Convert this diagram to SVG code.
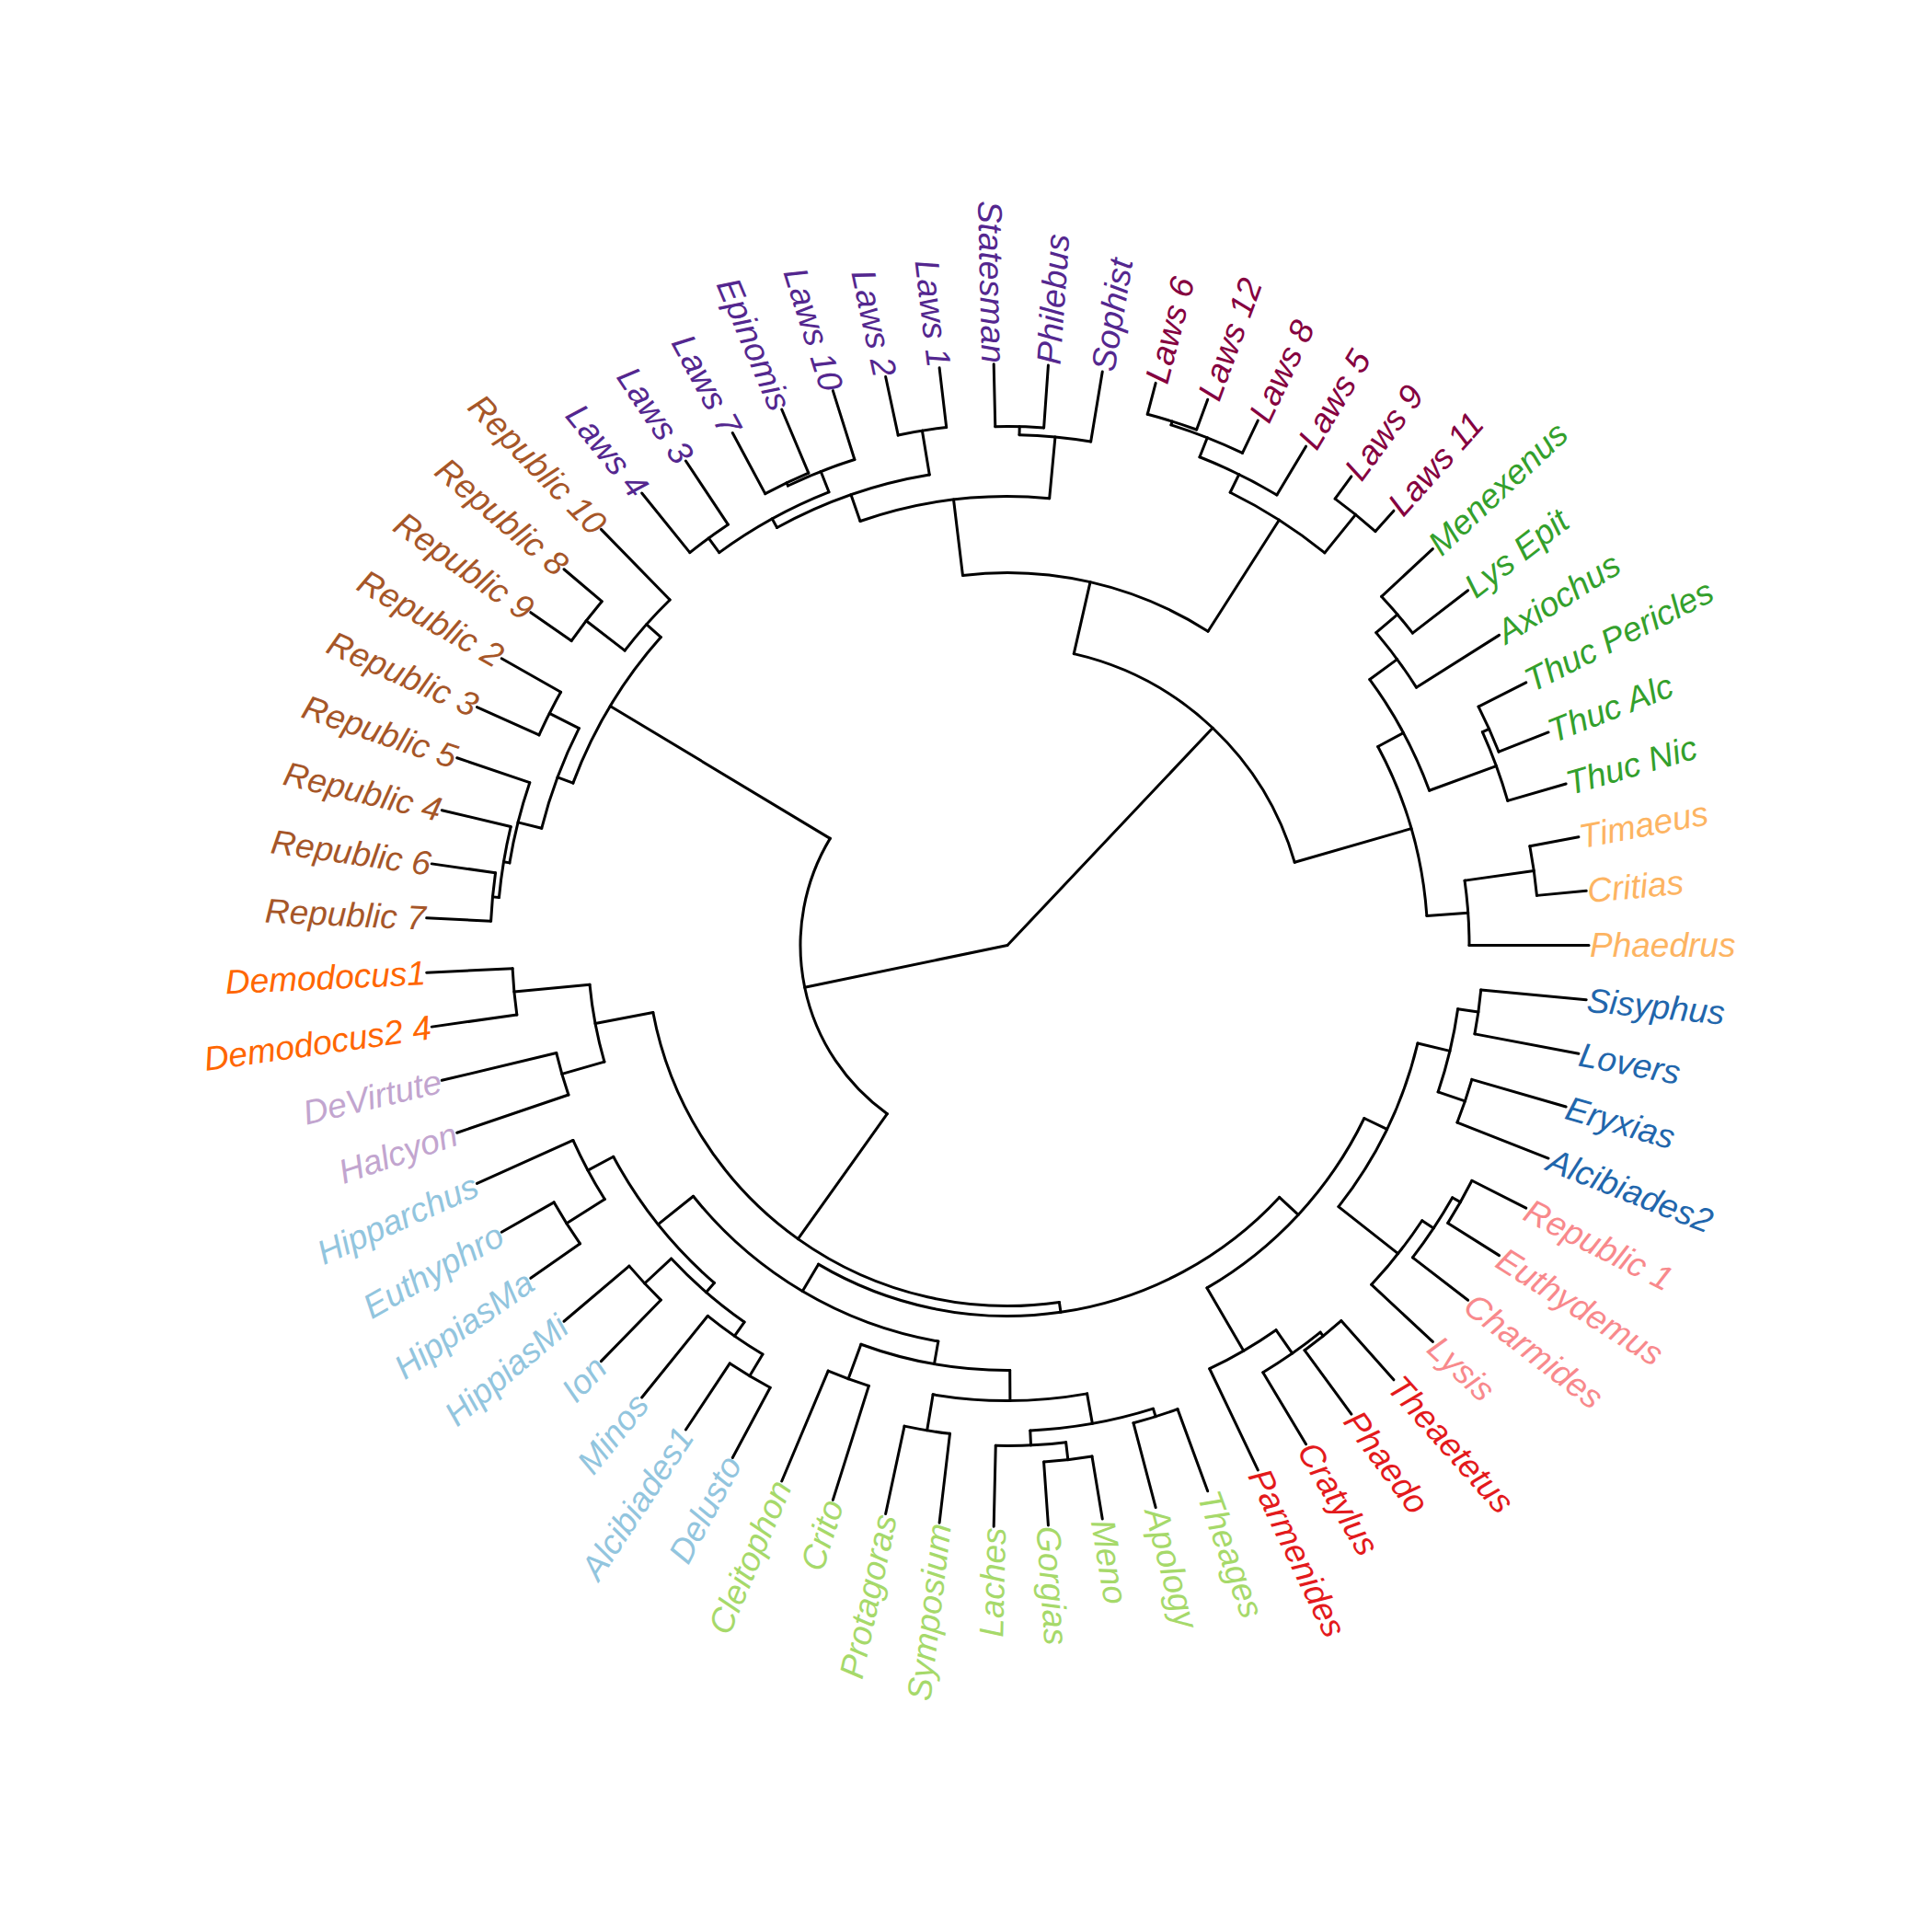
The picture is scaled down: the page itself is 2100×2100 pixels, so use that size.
<svg xmlns="http://www.w3.org/2000/svg" width="2100" height="2100" viewBox="0 0 2100 2100">
<style>
#connectors path, #connectors circle { fill:none; stroke:#000; stroke-width:3; stroke-linecap:round; }
text { font-family:"Liberation Sans", Arial, sans-serif; font-style:italic; font-size:37px; }
.L text { text-anchor:end; }
.brown { fill:#A65628; } .orange { fill:#FF6600; } .lpur { fill:#C2A5CF; } .lblue { fill:#92C5DE; }
.lgreen { fill:#A6D96A; } .red { fill:#E31A1C; } .pink { fill:#F8898C; } .blue { fill:#2166AC; }
.lorange { fill:#FDB462; } .green { fill:#33A02C; } .dred { fill:#85003F; } .purple { fill:#54278F; }
</style>
<rect width="2100" height="2100" fill="#fff"/>
<g id="connectors" transform="translate(1095 1027.5)">
<circle r="517" pathLength="360" stroke-dasharray="5.373 999" transform="rotate(5.373)"/>
<circle r="525.5" pathLength="360" stroke-dasharray="5.374 999" transform="rotate(16.119)"/>
<circle r="494.5" pathLength="360" stroke-dasharray="10.746 999" transform="rotate(8.060)"/>
<circle r="566" pathLength="360" stroke-dasharray="5.373 999" transform="rotate(26.866)"/>
<circle r="556" pathLength="360" stroke-dasharray="8.060 999" transform="rotate(29.552)"/>
<circle r="541" pathLength="360" stroke-dasharray="9.403 999" transform="rotate(33.582)"/>
<circle r="458.5" pathLength="360" stroke-dasharray="24.851 999" transform="rotate(13.433)"/>
<circle r="546" pathLength="360" stroke-dasharray="5.373 999" transform="rotate(48.358)"/>
<circle r="541" pathLength="360" stroke-dasharray="8.059 999" transform="rotate(51.045)"/>
<circle r="510" pathLength="360" stroke-dasharray="9.403 999" transform="rotate(55.075)"/>
<circle r="431" pathLength="360" stroke-dasharray="33.918 999" transform="rotate(25.858)"/>
<circle r="537" pathLength="360" stroke-dasharray="5.373 999" transform="rotate(69.851)"/>
<circle r="563" pathLength="360" stroke-dasharray="5.373 999" transform="rotate(80.597)"/>
<circle r="544" pathLength="360" stroke-dasharray="8.059 999" transform="rotate(83.284)"/>
<circle r="528" pathLength="360" stroke-dasharray="14.776 999" transform="rotate(72.537)"/>
<circle r="534.5" pathLength="360" stroke-dasharray="5.374 999" transform="rotate(96.716)"/>
<circle r="495" pathLength="360" stroke-dasharray="19.478 999" transform="rotate(79.925)"/>
<circle r="502" pathLength="360" stroke-dasharray="5.373 999" transform="rotate(107.463)"/>
<circle r="462" pathLength="360" stroke-dasharray="20.485 999" transform="rotate(89.664)"/>
<circle r="545.5" pathLength="360" stroke-dasharray="5.373 999" transform="rotate(118.209)"/>
<circle r="518" pathLength="360" stroke-dasharray="8.059 999" transform="rotate(120.896)"/>
<circle r="539" pathLength="360" stroke-dasharray="5.373 999" transform="rotate(134.328)"/>
<circle r="499.5" pathLength="360" stroke-dasharray="12.090 999" transform="rotate(124.925)"/>
<circle r="566.5" pathLength="360" stroke-dasharray="5.373 999" transform="rotate(145.075)"/>
<circle r="517.5" pathLength="360" stroke-dasharray="8.060 999" transform="rotate(147.761)"/>
<circle r="486" pathLength="360" stroke-dasharray="20.821 999" transform="rotate(130.970)"/>
<circle r="437" pathLength="360" stroke-dasharray="41.474 999" transform="rotate(99.907)"/>
<circle r="403" pathLength="360" stroke-dasharray="77.827 999" transform="rotate(42.817)"/>
<circle r="504" pathLength="360" stroke-dasharray="5.373 999" transform="rotate(161.194)"/>
<circle r="538.5" pathLength="360" stroke-dasharray="5.373 999" transform="rotate(171.940)"/>
<circle r="456" pathLength="360" stroke-dasharray="10.746 999" transform="rotate(163.881)"/>
<circle r="392" pathLength="360" stroke-dasharray="87.524 999" transform="rotate(81.730)"/>
<circle r="562" pathLength="360" stroke-dasharray="5.373 999" transform="rotate(182.687)"/>
<circle r="555" pathLength="360" stroke-dasharray="8.060 999" transform="rotate(185.373)"/>
<circle r="548.5" pathLength="360" stroke-dasharray="9.403 999" transform="rotate(189.403)"/>
<circle r="558" pathLength="360" stroke-dasharray="5.373 999" transform="rotate(204.179)"/>
<circle r="522" pathLength="360" stroke-dasharray="12.762 999" transform="rotate(194.104)"/>
<circle r="578" pathLength="360" stroke-dasharray="5.374 999" transform="rotate(214.925)"/>
<circle r="525" pathLength="360" stroke-dasharray="8.060 999" transform="rotate(217.612)"/>
<circle r="504" pathLength="360" stroke-dasharray="21.157 999" transform="rotate(200.485)"/>
<circle r="225" pathLength="360" stroke-dasharray="85.571 999" transform="rotate(125.492)"/>
<circle r="549" pathLength="360" stroke-dasharray="5.373 999" transform="rotate(231.045)"/>
<circle r="557" pathLength="360" stroke-dasharray="5.373 999" transform="rotate(241.791)"/>
<circle r="553.5" pathLength="360" stroke-dasharray="8.059 999" transform="rotate(244.478)"/>
<circle r="529.5" pathLength="360" stroke-dasharray="14.776 999" transform="rotate(233.731)"/>
<circle r="567" pathLength="360" stroke-dasharray="5.374 999" transform="rotate(257.910)"/>
<circle r="518.5" pathLength="360" stroke-dasharray="19.478 999" transform="rotate(241.119)"/>
<circle r="564" pathLength="360" stroke-dasharray="5.373 999" transform="rotate(268.657)"/>
<circle r="555" pathLength="360" stroke-dasharray="8.060 999" transform="rotate(271.343)"/>
<circle r="488" pathLength="360" stroke-dasharray="24.515 999" transform="rotate(250.858)"/>
<circle r="597" pathLength="360" stroke-dasharray="5.373 999" transform="rotate(284.776)"/>
<circle r="593" pathLength="360" stroke-dasharray="8.059 999" transform="rotate(287.463)"/>
<circle r="570.4" pathLength="360" stroke-dasharray="9.403 999" transform="rotate(291.493)"/>
<circle r="602" pathLength="360" stroke-dasharray="5.373 999" transform="rotate(306.269)"/>
<circle r="548.6" pathLength="360" stroke-dasharray="12.761 999" transform="rotate(296.194)"/>
<circle r="405" pathLength="360" stroke-dasharray="39.459 999" transform="rotate(263.116)"/>
<circle r="556" pathLength="360" stroke-dasharray="5.373 999" transform="rotate(317.015)"/>
<circle r="525.5" pathLength="360" stroke-dasharray="8.060 999" transform="rotate(319.701)"/>
<circle r="574" pathLength="360" stroke-dasharray="5.373 999" transform="rotate(333.134)"/>
<circle r="566" pathLength="360" stroke-dasharray="8.060 999" transform="rotate(335.821)"/>
<circle r="488.5" pathLength="360" stroke-dasharray="16.120 999" transform="rotate(323.731)"/>
<circle r="578" pathLength="360" stroke-dasharray="5.373 999" transform="rotate(349.254)"/>
<circle r="502" pathLength="360" stroke-dasharray="8.060 999" transform="rotate(351.940)"/>
<circle r="457" pathLength="360" stroke-dasharray="24.179 999" transform="rotate(331.791)"/>
<circle r="325" pathLength="360" stroke-dasharray="61.035 999" transform="rotate(282.846)"/>
<path d="M0 0H225" transform="rotate(168.278)"/>
<path d="M0 0H325" transform="rotate(313.363)"/>
<path d="M225 0H504" transform="rotate(211.063)"/>
<path d="M225 0H392" transform="rotate(125.492)"/>
<path d="M504 0H522" transform="rotate(200.485)"/>
<path d="M504 0H525" transform="rotate(221.642)"/>
<path d="M522 0H548.5" transform="rotate(194.104)"/>
<path d="M522 0H558" transform="rotate(206.866)"/>
<path d="M548.5 0H555" transform="rotate(189.403)"/>
<path d="M555 0H562" transform="rotate(185.373)"/>
<path d="M525 0H578" transform="rotate(217.612)"/>
<path d="M392 0H456" transform="rotate(169.254)"/>
<path d="M392 0H403" transform="rotate(81.730)"/>
<path d="M456 0H504" transform="rotate(163.881)"/>
<path d="M456 0H538.5" transform="rotate(174.627)"/>
<path d="M403 0H431" transform="rotate(42.817)"/>
<path d="M403 0H437" transform="rotate(120.644)"/>
<path d="M431 0H458.5" transform="rotate(25.858)"/>
<path d="M431 0H510" transform="rotate(59.776)"/>
<path d="M458.5 0H494.5" transform="rotate(13.433)"/>
<path d="M458.5 0H541" transform="rotate(38.284)"/>
<path d="M494.5 0H517" transform="rotate(8.060)"/>
<path d="M494.5 0H525.5" transform="rotate(18.806)"/>
<path d="M541 0H556" transform="rotate(33.582)"/>
<path d="M556 0H566" transform="rotate(29.552)"/>
<path d="M510 0H541" transform="rotate(55.075)"/>
<path d="M541 0H546" transform="rotate(51.045)"/>
<path d="M437 0H462" transform="rotate(99.907)"/>
<path d="M437 0H486" transform="rotate(141.381)"/>
<path d="M462 0H495" transform="rotate(89.664)"/>
<path d="M462 0H502" transform="rotate(110.149)"/>
<path d="M495 0H528" transform="rotate(79.925)"/>
<path d="M495 0H534.5" transform="rotate(99.403)"/>
<path d="M528 0H537" transform="rotate(72.537)"/>
<path d="M528 0H544" transform="rotate(87.313)"/>
<path d="M544 0H563" transform="rotate(83.284)"/>
<path d="M486 0H499.5" transform="rotate(130.970)"/>
<path d="M486 0H517.5" transform="rotate(151.791)"/>
<path d="M499.5 0H518" transform="rotate(124.925)"/>
<path d="M499.5 0H539" transform="rotate(137.015)"/>
<path d="M518 0H545.5" transform="rotate(120.896)"/>
<path d="M517.5 0H566.5" transform="rotate(147.761)"/>
<path d="M325 0H405" transform="rotate(282.846)"/>
<path d="M325 0H457" transform="rotate(343.881)"/>
<path d="M405 0H488" transform="rotate(263.116)"/>
<path d="M405 0H548.6" transform="rotate(302.575)"/>
<path d="M488 0H518.5" transform="rotate(250.858)"/>
<path d="M488 0H555" transform="rotate(275.373)"/>
<path d="M518.5 0H529.5" transform="rotate(241.119)"/>
<path d="M518.5 0H567" transform="rotate(260.597)"/>
<path d="M529.5 0H549" transform="rotate(233.731)"/>
<path d="M529.5 0H553.5" transform="rotate(248.507)"/>
<path d="M553.5 0H557" transform="rotate(244.478)"/>
<path d="M555 0H564" transform="rotate(271.343)"/>
<path d="M548.6 0H570.4" transform="rotate(296.194)"/>
<path d="M548.6 0H602" transform="rotate(308.955)"/>
<path d="M570.4 0H593" transform="rotate(291.493)"/>
<path d="M593 0H597" transform="rotate(287.463)"/>
<path d="M457 0H488.5" transform="rotate(331.791)"/>
<path d="M457 0H502" transform="rotate(355.970)"/>
<path d="M488.5 0H525.5" transform="rotate(323.731)"/>
<path d="M488.5 0H566" transform="rotate(339.851)"/>
<path d="M525.5 0H556" transform="rotate(319.701)"/>
<path d="M566 0H574" transform="rotate(335.821)"/>
<path d="M502 0H578" transform="rotate(351.940)"/>
<path d="M502 0H632" transform="rotate(0)"/>
<path d="M517 0H632" transform="rotate(5.373)"/>
<path d="M517 0H632" transform="rotate(10.746)"/>
<path d="M525.5 0H632" transform="rotate(16.119)"/>
<path d="M525.5 0H632" transform="rotate(21.493)"/>
<path d="M566 0H632" transform="rotate(26.866)"/>
<path d="M566 0H632" transform="rotate(32.239)"/>
<path d="M556 0H632" transform="rotate(37.612)"/>
<path d="M541 0H632" transform="rotate(42.985)"/>
<path d="M546 0H632" transform="rotate(48.358)"/>
<path d="M546 0H632" transform="rotate(53.731)"/>
<path d="M541 0H632" transform="rotate(59.104)"/>
<path d="M510 0H632" transform="rotate(64.478)"/>
<path d="M537 0H632" transform="rotate(69.851)"/>
<path d="M537 0H632" transform="rotate(75.224)"/>
<path d="M563 0H632" transform="rotate(80.597)"/>
<path d="M563 0H632" transform="rotate(85.970)"/>
<path d="M544 0H632" transform="rotate(91.343)"/>
<path d="M534.5 0H632" transform="rotate(96.716)"/>
<path d="M534.5 0H632" transform="rotate(102.090)"/>
<path d="M502 0H632" transform="rotate(107.463)"/>
<path d="M502 0H632" transform="rotate(112.836)"/>
<path d="M545.5 0H632" transform="rotate(118.209)"/>
<path d="M545.5 0H632" transform="rotate(123.582)"/>
<path d="M518 0H632" transform="rotate(128.955)"/>
<path d="M539 0H632" transform="rotate(134.328)"/>
<path d="M539 0H632" transform="rotate(139.701)"/>
<path d="M566.5 0H632" transform="rotate(145.075)"/>
<path d="M566.5 0H632" transform="rotate(150.448)"/>
<path d="M517.5 0H632" transform="rotate(155.821)"/>
<path d="M504 0H632" transform="rotate(161.194)"/>
<path d="M504 0H632" transform="rotate(166.567)"/>
<path d="M538.5 0H632" transform="rotate(171.940)"/>
<path d="M538.5 0H632" transform="rotate(177.313)"/>
<path d="M562 0H632" transform="rotate(182.687)"/>
<path d="M562 0H632" transform="rotate(188.060)"/>
<path d="M555 0H632" transform="rotate(193.433)"/>
<path d="M548.5 0H632" transform="rotate(198.806)"/>
<path d="M558 0H632" transform="rotate(204.179)"/>
<path d="M558 0H632" transform="rotate(209.552)"/>
<path d="M578 0H632" transform="rotate(214.925)"/>
<path d="M578 0H632" transform="rotate(220.299)"/>
<path d="M525 0H632" transform="rotate(225.672)"/>
<path d="M549 0H632" transform="rotate(231.045)"/>
<path d="M549 0H632" transform="rotate(236.418)"/>
<path d="M557 0H632" transform="rotate(241.791)"/>
<path d="M557 0H632" transform="rotate(247.164)"/>
<path d="M553.5 0H632" transform="rotate(252.537)"/>
<path d="M567 0H632" transform="rotate(257.910)"/>
<path d="M567 0H632" transform="rotate(263.284)"/>
<path d="M564 0H632" transform="rotate(268.657)"/>
<path d="M564 0H632" transform="rotate(274.030)"/>
<path d="M555 0H632" transform="rotate(279.403)"/>
<path d="M597 0H632" transform="rotate(284.776)"/>
<path d="M597 0H632" transform="rotate(290.149)"/>
<path d="M593 0H632" transform="rotate(295.522)"/>
<path d="M570.4 0H632" transform="rotate(300.896)"/>
<path d="M602 0H632" transform="rotate(306.269)"/>
<path d="M602 0H632" transform="rotate(311.642)"/>
<path d="M556 0H632" transform="rotate(317.015)"/>
<path d="M556 0H632" transform="rotate(322.388)"/>
<path d="M525.5 0H632" transform="rotate(327.761)"/>
<path d="M574 0H632" transform="rotate(333.134)"/>
<path d="M574 0H632" transform="rotate(338.507)"/>
<path d="M566 0H632" transform="rotate(343.881)"/>
<path d="M578 0H632" transform="rotate(349.254)"/>
<path d="M578 0H632" transform="rotate(354.627)"/>
</g>
<g id="labels" transform="translate(1095 1027.5)">
<g class="R">
<g id="leaf-phaedrus" class="lorange"><text dy=".35em" transform="rotate(0) translate(633 0)">Phaedrus</text></g>
<g id="leaf-sisyphus" class="blue"><text dy=".35em" transform="rotate(5.373) translate(633 0)">Sisyphus</text></g>
<g id="leaf-lovers" class="blue"><text dy=".35em" transform="rotate(10.746) translate(633 0)">Lovers</text></g>
<g id="leaf-eryxias" class="blue"><text dy=".35em" transform="rotate(16.119) translate(633 0)">Eryxias</text></g>
<g id="leaf-alcibiades2" class="blue"><text dy=".35em" transform="rotate(21.493) translate(633 0)">Alcibiades2</text></g>
<g id="leaf-republic1" class="pink"><text dy=".35em" transform="rotate(26.866) translate(633 0)">Republic 1</text></g>
<g id="leaf-euthydemus" class="pink"><text dy=".35em" transform="rotate(32.239) translate(633 0)">Euthydemus</text></g>
<g id="leaf-charmides" class="pink"><text dy=".35em" transform="rotate(37.612) translate(633 0)">Charmides</text></g>
<g id="leaf-lysis" class="pink"><text dy=".35em" transform="rotate(42.985) translate(633 0)">Lysis</text></g>
<g id="leaf-theaetetus" class="red"><text dy=".35em" transform="rotate(48.358) translate(633 0)">Theaetetus</text></g>
<g id="leaf-phaedo" class="red"><text dy=".35em" transform="rotate(53.731) translate(633 0)">Phaedo</text></g>
<g id="leaf-cratylus" class="red"><text dy=".35em" transform="rotate(59.104) translate(633 0)">Cratylus</text></g>
<g id="leaf-parmenides" class="red"><text dy=".35em" transform="rotate(64.478) translate(633 0)">Parmenides</text></g>
<g id="leaf-theages" class="lgreen"><text dy=".35em" transform="rotate(69.851) translate(633 0)">Theages</text></g>
<g id="leaf-apology" class="lgreen"><text dy=".35em" transform="rotate(75.224) translate(633 0)">Apology</text></g>
<g id="leaf-meno" class="lgreen"><text dy=".35em" transform="rotate(80.597) translate(633 0)">Meno</text></g>
<g id="leaf-gorgias" class="lgreen"><text dy=".35em" transform="rotate(85.970) translate(633 0)">Gorgias</text></g>
<g id="leaf-philebus" class="purple"><text dy=".35em" transform="rotate(274.030) translate(633 0)">Philebus</text></g>
<g id="leaf-sophist" class="purple"><text dy=".35em" transform="rotate(279.403) translate(633 0)">Sophist</text></g>
<g id="leaf-laws6" class="dred"><text dy=".35em" transform="rotate(284.776) translate(633 0)">Laws 6</text></g>
<g id="leaf-laws12" class="dred"><text dy=".35em" transform="rotate(290.149) translate(633 0)">Laws 12</text></g>
<g id="leaf-laws8" class="dred"><text dy=".35em" transform="rotate(295.522) translate(633 0)">Laws 8</text></g>
<g id="leaf-laws5" class="dred"><text dy=".35em" transform="rotate(300.896) translate(633 0)">Laws 5</text></g>
<g id="leaf-laws9" class="dred"><text dy=".35em" transform="rotate(306.269) translate(633 0)">Laws 9</text></g>
<g id="leaf-laws11" class="dred"><text dy=".35em" transform="rotate(311.642) translate(633 0)">Laws 11</text></g>
<g id="leaf-menexenus" class="green"><text dy=".35em" transform="rotate(317.015) translate(633 0)">Menexenus</text></g>
<g id="leaf-lysepit" class="green"><text dy=".35em" transform="rotate(322.388) translate(633 0)">Lys Epit</text></g>
<g id="leaf-axiochus" class="green"><text dy=".35em" transform="rotate(327.761) translate(633 0)">Axiochus</text></g>
<g id="leaf-thucpericles" class="green"><text dy=".35em" transform="rotate(333.134) translate(633 0)">Thuc Pericles</text></g>
<g id="leaf-thucalc" class="green"><text dy=".35em" transform="rotate(338.507) translate(633 0)">Thuc Alc</text></g>
<g id="leaf-thucnic" class="green"><text dy=".35em" transform="rotate(343.881) translate(633 0)">Thuc Nic</text></g>
<g id="leaf-timaeus" class="lorange"><text dy=".35em" transform="rotate(349.254) translate(633 0)">Timaeus</text></g>
<g id="leaf-critias" class="lorange"><text dy=".35em" transform="rotate(354.627) translate(633 0)">Critias</text></g>
</g>
<g class="L">
<g id="leaf-laches" class="lgreen"><text dy=".35em" transform="rotate(91.343) translate(633 0) rotate(180)">Laches</text></g>
<g id="leaf-symposium" class="lgreen"><text dy=".35em" transform="rotate(96.716) translate(633 0) rotate(180)">Symposium</text></g>
<g id="leaf-protagoras" class="lgreen"><text dy=".35em" transform="rotate(102.090) translate(633 0) rotate(180)">Protagoras</text></g>
<g id="leaf-crito" class="lgreen"><text dy=".35em" transform="rotate(107.463) translate(633 0) rotate(180)">Crito</text></g>
<g id="leaf-cleitophon" class="lgreen"><text dy=".35em" transform="rotate(112.836) translate(633 0) rotate(180)">Cleitophon</text></g>
<g id="leaf-delusto" class="lblue"><text dy=".35em" transform="rotate(118.209) translate(633 0) rotate(180)">Delusto</text></g>
<g id="leaf-alcibiades1" class="lblue"><text dy=".35em" transform="rotate(123.582) translate(633 0) rotate(180)">Alcibiades1</text></g>
<g id="leaf-minos" class="lblue"><text dy=".35em" transform="rotate(128.955) translate(633 0) rotate(180)">Minos</text></g>
<g id="leaf-ion" class="lblue"><text dy=".35em" transform="rotate(134.328) translate(633 0) rotate(180)">Ion</text></g>
<g id="leaf-hippiasmi" class="lblue"><text dy=".35em" transform="rotate(139.701) translate(633 0) rotate(180)">HippiasMi</text></g>
<g id="leaf-hippiasma" class="lblue"><text dy=".35em" transform="rotate(145.075) translate(633 0) rotate(180)">HippiasMa</text></g>
<g id="leaf-euthyphro" class="lblue"><text dy=".35em" transform="rotate(150.448) translate(633 0) rotate(180)">Euthyphro</text></g>
<g id="leaf-hipparchus" class="lblue"><text dy=".35em" transform="rotate(155.821) translate(633 0) rotate(180)">Hipparchus</text></g>
<g id="leaf-halcyon" class="lpur"><text dy=".35em" transform="rotate(161.194) translate(633 0) rotate(180)">Halcyon</text></g>
<g id="leaf-devirtute" class="lpur"><text dy=".35em" transform="rotate(166.567) translate(633 0) rotate(180)">DeVirtute</text></g>
<g id="leaf-demodocus24" class="orange"><text dy=".35em" transform="rotate(171.940) translate(633 0) rotate(180)">Demodocus2 4</text></g>
<g id="leaf-demodocus1" class="orange"><text dy=".35em" transform="rotate(177.313) translate(633 0) rotate(180)">Demodocus1</text></g>
<g id="leaf-republic7" class="brown"><text dy=".35em" transform="rotate(182.687) translate(633 0) rotate(180)">Republic 7</text></g>
<g id="leaf-republic6" class="brown"><text dy=".35em" transform="rotate(188.060) translate(633 0) rotate(180)">Republic 6</text></g>
<g id="leaf-republic4" class="brown"><text dy=".35em" transform="rotate(193.433) translate(633 0) rotate(180)">Republic 4</text></g>
<g id="leaf-republic5" class="brown"><text dy=".35em" transform="rotate(198.806) translate(633 0) rotate(180)">Republic 5</text></g>
<g id="leaf-republic3" class="brown"><text dy=".35em" transform="rotate(204.179) translate(633 0) rotate(180)">Republic 3</text></g>
<g id="leaf-republic2" class="brown"><text dy=".35em" transform="rotate(209.552) translate(633 0) rotate(180)">Republic 2</text></g>
<g id="leaf-republic9" class="brown"><text dy=".35em" transform="rotate(214.925) translate(633 0) rotate(180)">Republic 9</text></g>
<g id="leaf-republic8" class="brown"><text dy=".35em" transform="rotate(220.299) translate(633 0) rotate(180)">Republic 8</text></g>
<g id="leaf-republic10" class="brown"><text dy=".35em" transform="rotate(225.672) translate(633 0) rotate(180)">Republic 10</text></g>
<g id="leaf-laws4" class="purple"><text dy=".35em" transform="rotate(231.045) translate(633 0) rotate(180)">Laws 4</text></g>
<g id="leaf-laws3" class="purple"><text dy=".35em" transform="rotate(236.418) translate(633 0) rotate(180)">Laws 3</text></g>
<g id="leaf-laws7" class="purple"><text dy=".35em" transform="rotate(241.791) translate(633 0) rotate(180)">Laws 7</text></g>
<g id="leaf-epinomis" class="purple"><text dy=".35em" transform="rotate(247.164) translate(633 0) rotate(180)">Epinomis</text></g>
<g id="leaf-laws10" class="purple"><text dy=".35em" transform="rotate(252.537) translate(633 0) rotate(180)">Laws 10</text></g>
<g id="leaf-laws2" class="purple"><text dy=".35em" transform="rotate(257.910) translate(633 0) rotate(180)">Laws 2</text></g>
<g id="leaf-laws1" class="purple"><text dy=".35em" transform="rotate(263.284) translate(633 0) rotate(180)">Laws 1</text></g>
<g id="leaf-statesman" class="purple"><text dy=".35em" transform="rotate(268.657) translate(633 0) rotate(180)">Statesman</text></g>
</g>
</g>
</svg>
